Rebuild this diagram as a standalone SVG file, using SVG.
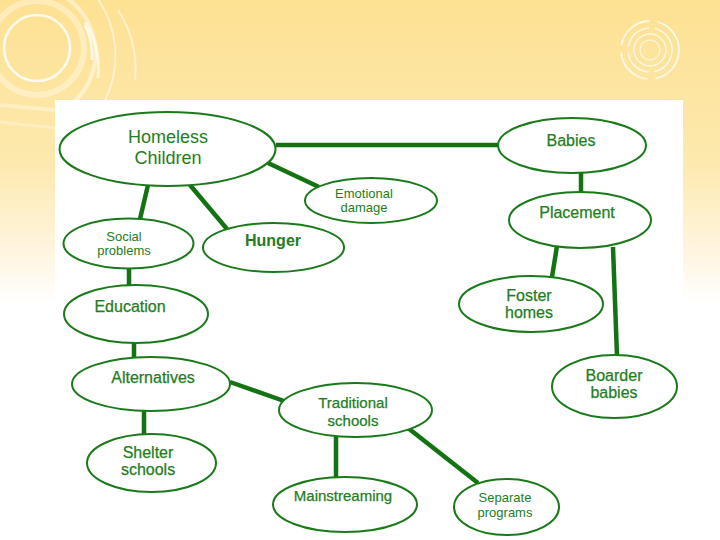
<svg xmlns="http://www.w3.org/2000/svg" width="720" height="540" viewBox="0 0 720 540">
<defs>
<linearGradient id="bg" x1="0" y1="0" x2="0" y2="1">
<stop offset="0" stop-color="#fde193"/>
<stop offset="0.3" stop-color="#fde9ae"/>
<stop offset="0.48" stop-color="#fff6e4"/>
<stop offset="0.56" stop-color="#ffffff"/>
</linearGradient>
<style>
.n ellipse{fill:#ffffff;stroke:#1a7a1a;stroke-width:2}
.n text{font-family:"Liberation Sans",Arial,sans-serif;fill:#237d23;text-anchor:middle}
.m{font-size:16px;stroke:#237d23;stroke-width:0.25}
.s{font-size:13px}
.b{font-size:16px;font-weight:bold}
.c line{stroke:#137313;stroke-width:4.5;stroke-linecap:butt}
.deco{fill:none;stroke:#ffffff}
</style>
</defs>
<rect x="0" y="0" width="720" height="540" fill="url(#bg)"/>
<g class="deco">
<circle cx="37" cy="48" r="33" stroke-width="2.5" stroke-opacity="0.85"/>
<circle cx="37" cy="48" r="47" stroke-width="6" stroke-opacity="0.35"/>
<path d="M 50 -10 A 66 66 0 0 1 70 105" stroke-width="4" stroke-opacity="0.45"/>
<path d="M 85 25 A 70 70 0 0 1 92 60" stroke-width="2.5" stroke-opacity="0.8"/>
<path d="M 85 22 A 88 88 0 0 1 98 78" stroke-width="3" stroke-opacity="0.6"/>
<path d="M 95 -5 A 100 100 0 0 1 105 100" stroke-width="2" stroke-opacity="0.5"/>
<path d="M 118 10 A 110 110 0 0 1 135 80" stroke-width="2" stroke-opacity="0.5"/>
<path d="M 0 105 L 55 110" stroke-width="4" stroke-opacity="0.35"/>
<path d="M 0 122 L 55 128" stroke-width="3" stroke-opacity="0.3"/>
<circle cx="650" cy="50" r="10" stroke-width="1.2" stroke-opacity="0.7"/>
<circle cx="650" cy="50" r="16" stroke-width="1.5" stroke-opacity="0.7"/>
<circle cx="650" cy="50" r="22" stroke-width="1.5" stroke-opacity="0.75" stroke-dasharray="30 6"/>
<circle cx="650" cy="50" r="29" stroke-width="1.8" stroke-opacity="0.75" stroke-dasharray="40 8"/>
</g>
<rect x="55" y="100" width="628" height="440" fill="#ffffff"/>
<g class="c" id="connectors">
<line x1="276" y1="145" x2="499" y2="145"/>
<line x1="268" y1="163" x2="319" y2="187"/>
<line x1="148" y1="185" x2="140" y2="219"/>
<line x1="190" y1="185" x2="227" y2="229"/>
<line x1="129" y1="268" x2="129" y2="286"/>
<line x1="134" y1="342" x2="134" y2="358"/>
<line x1="144" y1="410" x2="144" y2="435"/>
<line x1="230" y1="382" x2="284" y2="401"/>
<line x1="336" y1="434" x2="336" y2="478"/>
<line x1="408" y1="428" x2="478" y2="483"/>
<line x1="581" y1="172" x2="581" y2="193"/>
<line x1="557" y1="246" x2="552" y2="277"/>
<line x1="613" y1="247" x2="617" y2="356"/>
</g>
<g class="n" id="homeless-children"><ellipse cx="167.5" cy="149" rx="108" ry="37"/><text x="168" y="143" style="font-size:18px">Homeless</text><text x="168" y="164" style="font-size:18px">Children</text></g>
<g class="n" id="babies"><ellipse cx="572" cy="145.5" rx="74" ry="27.5"/><text class="m" x="571" y="146">Babies</text></g>
<g class="n" id="emotional-damage"><ellipse cx="371" cy="200.5" rx="66" ry="22.5"/><text class="s" x="364" y="198">Emotional</text><text class="s" x="364" y="212">damage</text></g>
<g class="n" id="placement"><ellipse cx="580" cy="220" rx="71" ry="28"/><text class="m" x="577" y="218">Placement</text></g>
<g class="n" id="social-problems"><ellipse cx="128.5" cy="243.5" rx="65" ry="25"/><text class="s" x="124" y="241">Social</text><text class="s" x="124" y="255">problems</text></g>
<g class="n" id="hunger"><ellipse cx="273.5" cy="247.5" rx="70.5" ry="24.5"/><text class="b" x="273" y="246">Hunger</text></g>
<g class="n" id="foster-homes"><ellipse cx="531" cy="304" rx="72" ry="28"/><text class="m" x="529" y="301">Foster</text><text class="m" x="529" y="318">homes</text></g>
<g class="n" id="education"><ellipse cx="136" cy="314" rx="72" ry="29"/><text class="m" x="130" y="312">Education</text></g>
<g class="n" id="alternatives"><ellipse cx="151" cy="384" rx="79" ry="27"/><text class="m" x="153" y="383">Alternatives</text></g>
<g class="n" id="boarder-babies"><ellipse cx="614.5" cy="386.5" rx="62.5" ry="31.5"/><text class="m" x="614" y="381">Boarder</text><text class="m" x="614" y="398">babies</text></g>
<g class="n" id="traditional-schools"><ellipse cx="355.5" cy="410" rx="76.5" ry="27"/><text class="m" x="353" y="408" style="font-size:15px">Traditional</text><text class="m" x="353" y="426" style="font-size:15px">schools</text></g>
<g class="n" id="shelter-schools"><ellipse cx="151.5" cy="463" rx="64.5" ry="29"/><text class="m" x="148" y="458">Shelter</text><text class="m" x="148" y="475">schools</text></g>
<g class="n" id="mainstreaming"><ellipse cx="345" cy="504.5" rx="72" ry="27.5"/><text class="m" x="343" y="501" style="font-size:15px">Mainstreaming</text></g>
<g class="n" id="separate-programs"><ellipse cx="506.5" cy="507" rx="52.5" ry="28"/><text class="s" x="505" y="502">Separate</text><text class="s" x="505" y="517">programs</text></g>
</svg>
